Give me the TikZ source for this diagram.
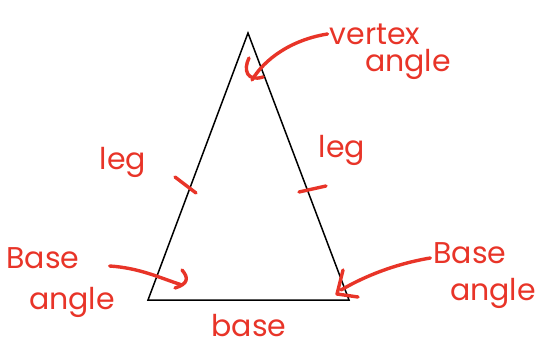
\documentclass[tikz,border=0pt]{standalone}
\usepackage{fontspec}
\setmainfont{Poppins}
\definecolor{ink}{RGB}{232,52,40}
\tikzset{
  edge/.style={black, line width=1.5pt},
  pen/.style={ink, line width=3.4pt, line cap=round, line join=round},
  word/.style={ink, font=\fontsize{30}{31}\selectfont, inner sep=0pt}
}

\begin{document}
\begin{tikzpicture}[x=1pt,y=-1pt]
\useasboundingbox (0,0) rectangle (535,347);
% triangle
\coordinate (apex) at (248,33);
\coordinate (bl) at (148,300);
\coordinate (br) at (349,300);
\draw[edge] (apex) -- (bl) -- (br) -- cycle;
% labels
\node[word] (vertex) at (375,34) {vertex};
\node[word] (vangle) at (408,64) {angle};
\node[word] (legl) at (123,162) {leg};
\node[word] (legr) at (342,150) {leg};
\node[word] (basel) at (43,258) {Base};
\node[word] (anglel) at (72,302) {angle};
\node[word] (baser) at (470,253) {Base};
\node[word] (angler) at (493,293) {angle};
\node[word] (base) at (249,326) {base};
% leg ticks
\draw[pen] (175,177) -- (196,193);
\draw[pen] (299,192) -- (326,186);
% vertex arrow
\draw[pen] (vertex.west) ++(-2,0) .. controls (290,40) and (264,60) .. (252,80);
\draw[pen] (249,58) .. controls (243,70) and (247,82) .. (263,77);
% left base arrow
\draw[pen] (basel.east) ++(30,8) .. controls (140,268) and (160,278) .. (182,285);
\draw[pen] (182,270) .. controls (189,278) and (188,284) .. (175,288);
% right base arrow
\draw[pen] (baser.west) ++(-3,5) .. controls (395,264) and (365,276) .. (341,290);
\draw[pen] (343,270) -- (337,294) -- (358,297);
\end{tikzpicture}
\end{document}
